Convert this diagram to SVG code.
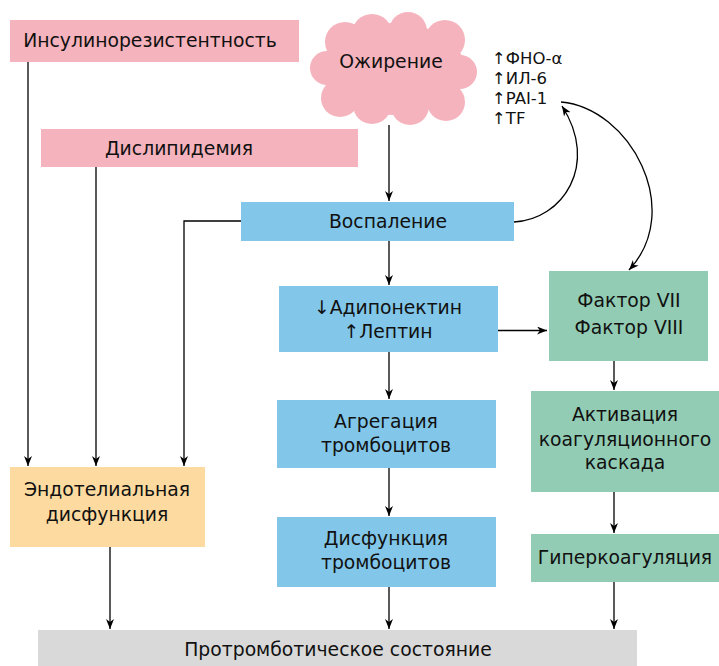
<svg xmlns="http://www.w3.org/2000/svg" width="719" height="666" viewBox="0 0 719 666">
<defs>
<marker id="ah" viewBox="0 0 10 8" refX="10" refY="4" markerWidth="10" markerHeight="8" markerUnits="userSpaceOnUse" orient="auto">
<path d="M0,0 L10,4 L0,8 L3,4 z" fill="#000"/>
</marker>
<style>
.t{font-family:"DejaVu Sans","Open Sans",sans-serif;font-size:18.8px;fill:#111;text-anchor:middle}
.s{font-family:"DejaVu Sans","Open Sans",sans-serif;font-size:16.5px;fill:#111}
.pink{fill:#F5B3BD}
.blue{fill:#82C7E9}
.green{fill:#93CCB4}
.orange{fill:#FDDBA0}
.gray{fill:#D9D9D9}
.c{stroke:#000;stroke-width:1.3;fill:none;marker-end:url(#ah)}
</style>
</defs>
<rect width="719" height="666" fill="#fff"/>
<g id="insulin"><rect class="pink" x="10" y="20" width="289" height="42"/><text class="t" x="150" y="47">Инсулинорезистентность</text></g>
<g id="dyslipidemia"><rect class="pink" x="41" y="129" width="317" height="38"/><text class="t" x="179" y="155">Дислипидемия</text></g>
<g id="obesity">
<g class="pink">
<ellipse cx="393" cy="69" rx="72" ry="46"/>
<circle cx="345" cy="42" r="20"/>
<circle cx="372" cy="34" r="20"/>
<circle cx="408" cy="31" r="19"/>
<circle cx="445" cy="40" r="20"/>
<circle cx="460" cy="72" r="17"/>
<circle cx="446" cy="102" r="19"/>
<circle cx="410" cy="106" r="19"/>
<circle cx="372" cy="105" r="19"/>
<circle cx="340" cy="98" r="19"/>
<circle cx="327" cy="68" r="17"/>
</g>
<text class="t" x="391" y="68">Ожирение</text>
</g>
<g id="markers">
<text class="s" x="492" y="64">↑ФНО-α</text>
<text class="s" x="492" y="84">↑ИЛ-6</text>
<text class="s" x="492" y="104">↑PAI-1</text>
<text class="s" x="492" y="124">↑TF</text>
</g>
<g id="inflammation"><rect class="blue" x="241" y="202" width="273" height="39"/><text class="t" x="388" y="228">Воспаление</text></g>
<g id="adipo"><rect class="blue" x="279" y="286" width="219" height="66"/><text class="t" x="388" y="314">↓Адипонектин</text><text class="t" x="388" y="338">↑Лептин</text></g>
<g id="aggregation"><rect class="blue" x="277" y="400" width="219" height="68"/><text class="t" x="386" y="428">Агрегация</text><text class="t" x="386" y="452">тромбоцитов</text></g>
<g id="platelet-dysf"><rect class="blue" x="277" y="517" width="219" height="70"/><text class="t" x="386" y="545">Дисфункция</text><text class="t" x="386" y="569">тромбоцитов</text></g>
<g id="factors"><rect class="green" x="549" y="271" width="159" height="90"/><text class="t" x="629" y="307">Фактор VII</text><text class="t" x="629" y="334">Фактор VIII</text></g>
<g id="activation"><rect class="green" x="531" y="391" width="188" height="101"/><text class="t" x="625" y="421">Активация</text><text class="t" x="625" y="446">коагуляционного</text><text class="t" x="625" y="469">каскада</text></g>
<g id="hypercoag"><rect class="green" x="531" y="534" width="188" height="48"/><text class="t" x="625" y="564">Гиперкоагуляция</text></g>
<g id="endothelial"><rect class="orange" x="10" y="467" width="195" height="80"/><text class="t" x="107" y="496">Эндотелиальная</text><text class="t" x="107" y="521">дисфункция</text></g>
<g id="prothrombotic"><rect class="gray" x="38" y="630" width="599" height="36"/><text class="t" x="338" y="656">Протромботическое состояние</text></g>
<g id="connectors">
<path class="c" d="M389,125 V201"/>
<path class="c" d="M389,241 V285"/>
<path class="c" d="M389,352 V399"/>
<path class="c" d="M389,468 V516"/>
<path class="c" d="M389,587 V629"/>
<path class="c" d="M110,547 V629"/>
<path class="c" d="M614,582 V629"/>
<path class="c" d="M614,492 V533"/>
<path class="c" d="M614,361 V390"/>
<path class="c" d="M498,330.5 H547"/>
<path class="c" d="M28,62 V466"/>
<path class="c" d="M96,167 V466"/>
<path class="c" d="M241,221 H184 V466"/>
<path class="c" d="M514,222 C562,220 600,165 562,106"/>
<path class="c" d="M561,102 C630,108 685,210 629,270"/>
</g>
</svg>
